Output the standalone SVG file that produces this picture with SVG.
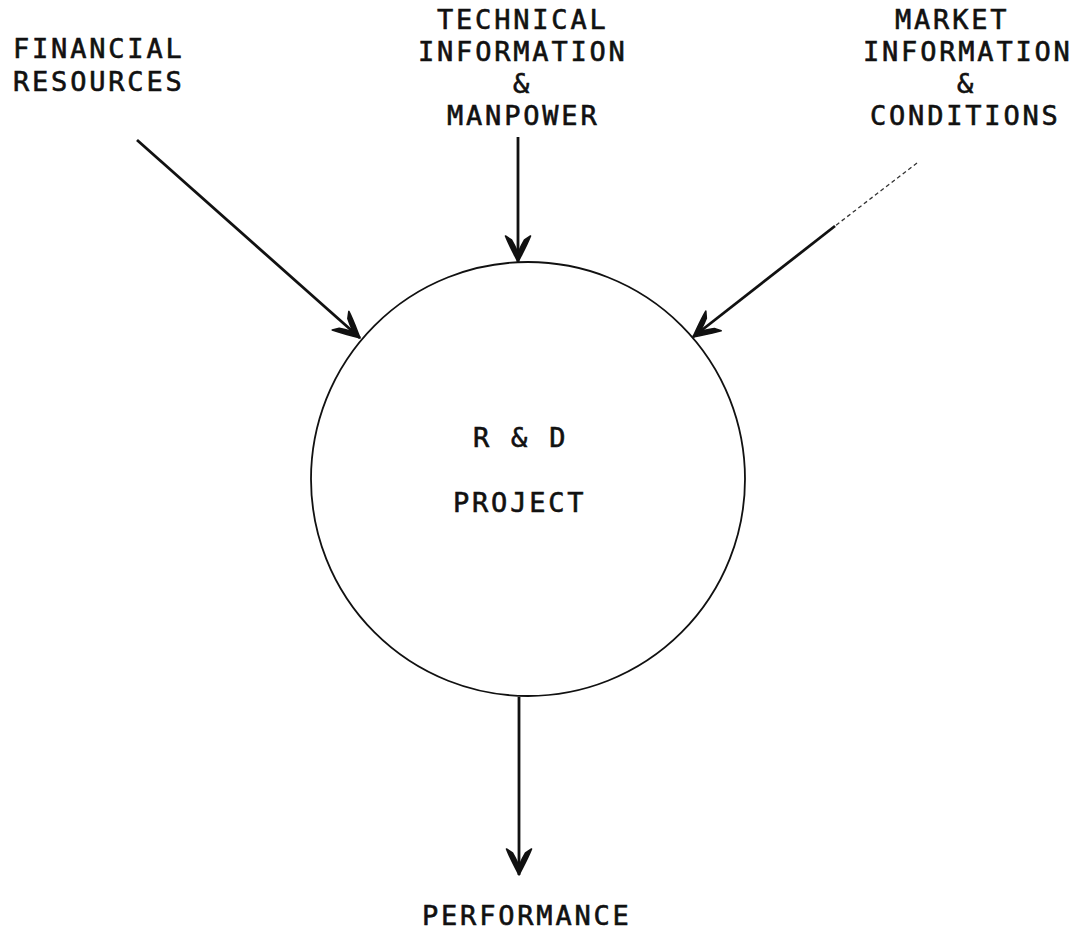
<svg xmlns="http://www.w3.org/2000/svg" width="1073" height="934" viewBox="0 0 1073 934">
<style>
.t{font-family:"DejaVu Sans Mono","Liberation Mono",monospace;font-size:27px;letter-spacing:2.8px;fill:#111;stroke:#111;stroke-width:0.6}
.c{fill:none;stroke:#111;stroke-width:1.8}
.a{fill:none;stroke:#111;stroke-width:2.8;marker-end:url(#ah)}
.d{fill:none;stroke:#333;stroke-width:1.3;stroke-dasharray:4 3}
</style>
<defs>
<marker id="ah" markerUnits="userSpaceOnUse" viewBox="-30 -15 32 30" refX="0" refY="0" markerWidth="32" markerHeight="30" orient="auto">
<path d="M0,0 C-8,-4 -17,-9 -26,-12.5 L-22,-6.5 C-17,-3.5 -13,-1.8 -9,0 C-13,1.8 -17,3.5 -22,6.5 L-26,12.5 C-17,9 -8,4 0,0 Z" fill="#111" stroke="#111" stroke-width="1.6" stroke-linejoin="round"/>
</marker>
</defs>
<rect width="1073" height="934" fill="#fff"/>
<g id="project">
<circle class="c" cx="528" cy="479" r="217"/>
<text class="t" x="473" y="447">R &amp; D</text>
<text class="t" x="453" y="512">PROJECT</text>
</g>
<g id="financial">
<text class="t" x="13" y="58">FINANCIAL</text>
<text class="t" x="13" y="91">RESOURCES</text>
</g>
<g id="technical">
<text class="t" x="437" y="29">TECHNICAL</text>
<text class="t" x="418" y="61">INFORMATION</text>
<text class="t" x="513" y="93">&amp;</text>
<text class="t" x="447" y="125">MANPOWER</text>
</g>
<g id="market">
<text class="t" x="895" y="29">MARKET</text>
<text class="t" x="863" y="61">INFORMATION</text>
<text class="t" x="957" y="93">&amp;</text>
<text class="t" x="870" y="125">CONDITIONS</text>
</g>
<g id="performance">
<text class="t" x="422" y="925">PERFORMANCE</text>
</g>
<g id="connectors">
<path class="a" d="M137,140 L360,338"/>
<path class="a" d="M518,137 L518,262"/>
<path class="d" d="M917,163 L835,226"/>
<path class="a" d="M835,226 L693,337"/>
<path class="a" d="M519,697 L519,875"/>
</g>
</svg>
